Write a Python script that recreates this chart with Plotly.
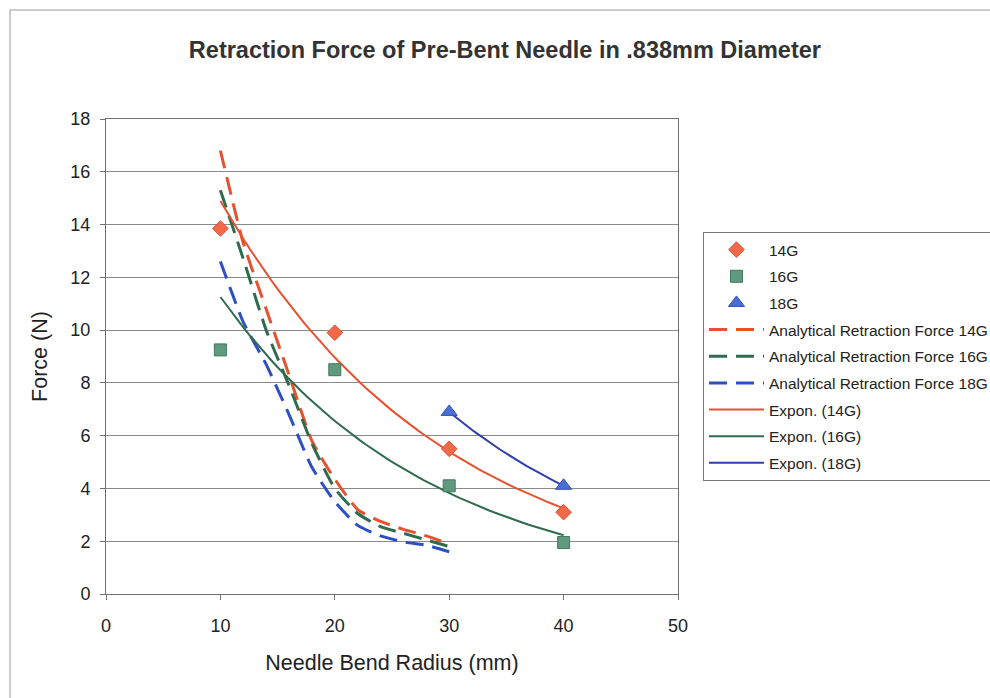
import numpy as np
import plotly.graph_objects as go

# Measured retraction force (N) by needle bend radius (mm)
radius_14g = [10, 20, 30, 40]
force_14g = [13.85, 9.9, 5.5, 3.1]
radius_16g = [10, 20, 30, 40]
force_16g = [9.25, 8.5, 4.1, 1.95]
radius_18g = [30, 40]
force_18g = [6.9, 4.1]

# Analytical retraction force curves
radius_analytical = [10, 12, 14, 16, 18, 20, 22, 24, 26, 28, 30]
analytical_14g = [16.8, 13.3, 10.8, 8.3, 5.8, 4.35, 3.2, 2.75, 2.45, 2.2, 1.9]
analytical_16g = [15.3, 12.7, 10.0, 7.9, 5.7, 4.0, 3.05, 2.55, 2.3, 2.05, 1.8]
analytical_18g = [12.6, 10.3, 8.7, 6.8, 4.8, 3.5, 2.6, 2.2, 1.97, 1.85, 1.6]

x_ticks = [0, 10, 20, 30, 40, 50]
y_ticks = [0, 2, 4, 6, 8, 10, 12, 14, 16, 18]

FONT = "Liberation Sans, Arial, sans-serif"
RED, GREEN, BLUE = "#E8512F", "#2F6B4C", "#2D4FC4"


def expon_trend(xs, ys, n=60):
    """Exponential least-squares trendline y = a*exp(b*x) over the data span."""
    b, ln_a = np.polyfit(xs, np.log(ys), 1)
    xt = np.linspace(min(xs), max(xs), n)
    return xt, np.exp(ln_a) * np.exp(b * xt)


fig = go.Figure()

dash = "18px,9px"
for name, ys, col, rank in [
    ("Analytical Retraction Force 14G", analytical_14g, RED, 4),
    ("Analytical Retraction Force 16G", analytical_16g, GREEN, 5),
    ("Analytical Retraction Force 18G", analytical_18g, BLUE, 6),
]:
    fig.add_trace(go.Scatter(
        x=radius_analytical, y=ys, mode="lines", name=name,
        legendrank=rank, legendgroup=name,
        line=dict(color=col, width=3, dash=dash, shape="spline", smoothing=0.5),
    ))

for name, xs, ys, col, rank in [
    ("Expon. (14G)", radius_14g, force_14g, RED, 7),
    ("Expon. (16G)", radius_16g, force_16g, GREEN, 8),
    ("Expon. (18G)", radius_18g, force_18g, "#2E3FAE", 9),
]:
    xt, yt = expon_trend(xs, ys)
    fig.add_trace(go.Scatter(
        x=xt, y=yt, mode="lines", name=name,
        legendrank=rank, legendgroup=name,
        line=dict(color=col, width=2),
    ))

fig.add_trace(go.Scatter(
    x=radius_14g, y=force_14g, mode="markers", name="14G",
    legendrank=1, legendgroup="14G",
    marker=dict(symbol="diamond", size=12, color="#F2694A",
                line=dict(color="#E0502E", width=1)),
))
fig.add_trace(go.Scatter(
    x=radius_16g, y=force_16g, mode="markers", name="16G",
    legendrank=2, legendgroup="16G",
    marker=dict(symbol="square", size=12, color="#5F9A7E",
                line=dict(color="#3E7A5C", width=1)),
))
fig.add_trace(go.Scatter(
    x=radius_18g, y=force_18g, mode="markers", name="18G",
    legendrank=3, legendgroup="18G",
    marker=dict(symbol="triangle-up", size=14, color="#4A6FD2",
                line=dict(color="#2F50B8", width=1)),
))

axis_common = dict(
    showline=True, linecolor="#707070", linewidth=1, mirror=True,
    ticks="outside", ticklen=5, tickcolor="#707070",
    tickfont=dict(family=FONT, size=18, color="#222"),
    zeroline=False,
)

fig.update_layout(
    width=990, height=698,
    paper_bgcolor="white", plot_bgcolor="white",
    margin=dict(l=106, r=312, t=119, b=104, autoexpand=False),
    title=dict(
        text="<b>Retraction Force of Pre-Bent Needle in .838mm Diameter</b>",
        x=0.51, xanchor="center", y=0.928, yanchor="middle",
        font=dict(family=FONT, size=23.5, color="#333"),
    ),
    xaxis=dict(
        range=[0, 50], tickvals=x_ticks, showgrid=False,
        ticklabelstandoff=10,
        title=dict(text="Needle Bend Radius (mm)", standoff=20,
                   font=dict(family=FONT, size=21.5, color="#222")),
        **axis_common,
    ),
    yaxis=dict(
        range=[0, 18], tickvals=y_ticks, showgrid=True,
        gridcolor="#8a8a8a", gridwidth=1,
        ticklabelstandoff=6,
        title=dict(text="Force (N)", standoff=16,
                   font=dict(family=FONT, size=21.5, color="#222")),
        **axis_common,
    ),
    legend=dict(
        x=1.0437, xanchor="left", y=0.762, yanchor="top",
        bordercolor="#777", borderwidth=1, bgcolor="white",
        font=dict(family=FONT, size=15.5, color="#222"),
        itemwidth=55, tracegroupgap=3.5,
    ),
    shapes=[
        dict(type="line", xref="paper", yref="paper",
             x0=-0.1678, y0=1.2295, x1=1.6, y1=1.2295,
             line=dict(color="#9a9a9a", width=1), layer="below"),
        dict(type="line", xref="paper", yref="paper",
             x0=-0.1678, y0=-0.3, x1=-0.1678, y1=1.2295,
             line=dict(color="#9a9a9a", width=1), layer="below"),
    ],
)

fig.write_html("out.html")
